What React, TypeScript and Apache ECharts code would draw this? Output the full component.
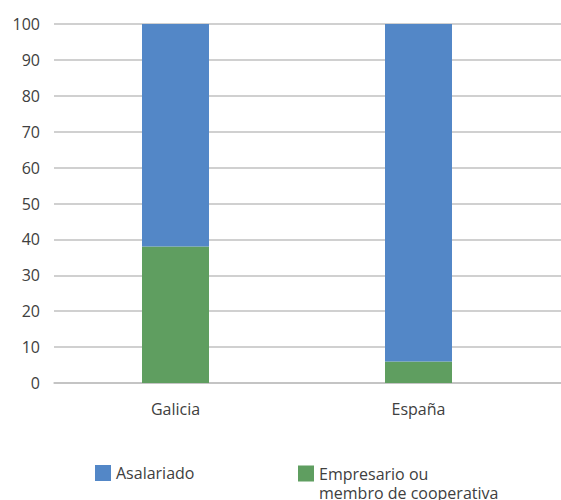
import React, { useEffect, useRef } from "react";
import * as echarts from "echarts";

const categories = ["Galicia", "España"];
const asalariado = [62, 94];
const empresario = [38, 6];
const seriesNames = ["Asalariado", "Empresario ou\nmembro de cooperativa"];
const yTicks = { min: 0, max: 100, interval: 10 };

const FONT = "'Open Sans', sans-serif";
const TEXT = "#404040";
const GRIDC = "#c0c0c0";
const FS = 16;

export default function App() {
  const ref = useRef<HTMLDivElement>(null);
  useEffect(() => {
    if (!ref.current) return;
    const chart = echarts.init(ref.current, undefined, { renderer: "svg" });
    chart.setOption({
      animation: false,
      textStyle: { fontFamily: FONT },
      grid: [
        { left: 54, right: 0, top: 24, bottom: 117 },
        { left: 54, width: 486, top: 24, bottom: 117 },
      ],
      xAxis: [
        {
          type: "category",
          gridIndex: 0,
          data: categories,
          axisLine: { lineStyle: { color: GRIDC, width: 1.5 } },
          axisTick: { inside: true, length: 9, lineStyle: { color: GRIDC, width: 1.5 } },
          axisLabel: { show: false },
        },
        {
          type: "category",
          gridIndex: 1,
          data: categories,
          axisLine: { show: false },
          axisTick: { show: false },
          axisLabel: { margin: 18, fontSize: FS, color: TEXT, fontFamily: FONT },
        },
      ],
      yAxis: [
        {
          type: "value",
          gridIndex: 0,
          ...yTicks,
          axisLine: { show: false },
          axisTick: { show: false },
          splitLine: { lineStyle: { color: GRIDC, width: 1.5 } },
          axisLabel: { margin: 14, fontSize: FS, color: TEXT, fontFamily: FONT },
        },
        {
          type: "value",
          gridIndex: 1,
          ...yTicks,
          show: false,
          splitLine: { show: false },
        },
      ],
      legend: [
        {
          data: [seriesNames[0]],
          left: 95,
          top: 465,
          padding: 0,
          itemWidth: 16,
          itemHeight: 16,
          icon: "rect",
          textStyle: { fontSize: FS, color: TEXT, fontFamily: FONT },
        },
        {
          data: [seriesNames[1]],
          left: 298,
          top: 464,
          padding: 0,
          itemWidth: 16,
          itemHeight: 35,
          icon: "path://M0,0 h16 v16 h-16 Z M0,34.99 h0.01 v0.01 h-0.01 Z",
          textStyle: {
            fontSize: FS,
            color: TEXT,
            fontFamily: FONT,
            lineHeight: 19,
          },
        },
      ],
      series: [
        {
          name: seriesNames[1],
          type: "bar",
          stack: "total",
          xAxisIndex: 1,
          yAxisIndex: 1,
          barWidth: 67,
          data: empresario,
          itemStyle: { color: "#5f9e60" },
        },
        {
          name: seriesNames[0],
          type: "bar",
          stack: "total",
          xAxisIndex: 1,
          yAxisIndex: 1,
          barWidth: 67,
          data: asalariado,
          itemStyle: { color: "#5387c7" },
        },
      ],
    });
    return () => chart.dispose();
  }, []);
  return (
    <div
      ref={ref}
      style={{ position: "fixed", left: 0, top: 0, width: 561, height: 500, background: "#fff" }}
    />
  );
}
